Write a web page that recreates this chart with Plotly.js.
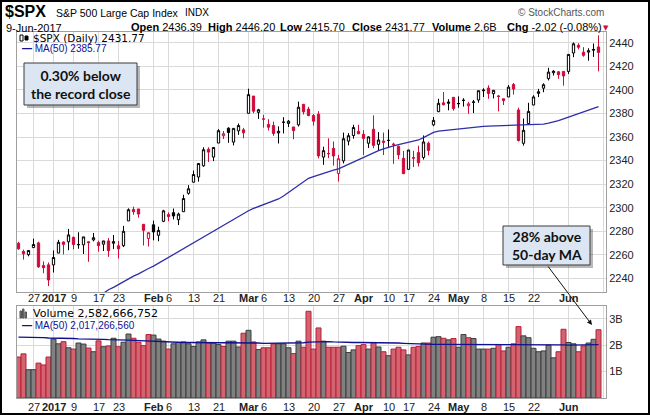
<!DOCTYPE html>
<html>
<head>
<meta charset="utf-8">
<script src="https://cdn.plot.ly/plotly-3.0.1.min.js"></script>
<style>
  html, body { margin: 0; padding: 0; background: #fff; }
  #chart { width: 650px; height: 415px; }
</style>
</head>
<body>
<div id="chart"></div>
<script>
// $SPX daily, 21-Dec-2016 .. 9-Jun-2017 (117 sessions)
const dates = [
  '2016-12-21','2016-12-22','2016-12-23','2016-12-27','2016-12-28','2016-12-29','2016-12-30',
  '2017-01-03','2017-01-04','2017-01-05','2017-01-06','2017-01-09','2017-01-10','2017-01-11','2017-01-12','2017-01-13',
  '2017-01-17','2017-01-18','2017-01-19','2017-01-20','2017-01-23','2017-01-24','2017-01-25','2017-01-26','2017-01-27',
  '2017-01-30','2017-01-31','2017-02-01','2017-02-02','2017-02-03','2017-02-06','2017-02-07','2017-02-08','2017-02-09',
  '2017-02-10','2017-02-13','2017-02-14','2017-02-15','2017-02-16','2017-02-17','2017-02-21','2017-02-22','2017-02-23',
  '2017-02-24','2017-02-27','2017-02-28','2017-03-01','2017-03-02','2017-03-03','2017-03-06','2017-03-07','2017-03-08',
  '2017-03-09','2017-03-10','2017-03-13','2017-03-14','2017-03-15','2017-03-16','2017-03-17','2017-03-20','2017-03-21',
  '2017-03-22','2017-03-23','2017-03-24','2017-03-27','2017-03-28','2017-03-29','2017-03-30','2017-03-31','2017-04-03',
  '2017-04-04','2017-04-05','2017-04-06','2017-04-07','2017-04-10','2017-04-11','2017-04-12','2017-04-13','2017-04-17',
  '2017-04-18','2017-04-19','2017-04-20','2017-04-21','2017-04-24','2017-04-25','2017-04-26','2017-04-27','2017-04-28',
  '2017-05-01','2017-05-02','2017-05-03','2017-05-04','2017-05-05','2017-05-08','2017-05-09','2017-05-10','2017-05-11',
  '2017-05-12','2017-05-15','2017-05-16','2017-05-17','2017-05-18','2017-05-19','2017-05-22','2017-05-23','2017-05-24',
  '2017-05-25','2017-05-26','2017-05-30','2017-05-31','2017-06-01','2017-06-02','2017-06-05','2017-06-06','2017-06-07',
  '2017-06-08','2017-06-09'
];

const open = [
  2270.0, 2262.93, 2260.25, 2266.23, 2270.23, 2251.0, 2251.61,
  2251.57, 2261.6, 2271.0, 2271.14, 2275.0, 2268.6, 2268.6, 2271.14, 2272.74,
  2270.5, 2269.14, 2271.9, 2269.96, 2267.78, 2267.88, 2288.88, 2298.63, 2299.02,
  2286.01, 2274.02, 2285.59, 2276.69, 2288.54, 2294.28, 2295.87, 2289.89, 2296.7,
  2312.27, 2321.72, 2326.12, 2335.58, 2349.64, 2343.01, 2354.91, 2361.11, 2367.5,
  2355.73, 2365.23, 2366.08, 2380.13, 2394.75, 2380.92, 2375.23, 2370.74, 2369.81,
  2363.49, 2372.52, 2371.56, 2368.55, 2370.34, 2387.71, 2383.71, 2378.24, 2379.32,
  2343.0, 2345.97, 2350.42, 2329.11, 2339.79, 2356.54, 2361.31, 2364.82, 2362.34,
  2354.76, 2366.59, 2353.79, 2356.59, 2357.16, 2353.92, 2352.15, 2341.98, 2332.62,
  2342.53, 2346.79, 2342.69, 2354.74, 2370.33, 2381.51, 2388.98, 2389.7, 2393.68,
  2388.5, 2391.05, 2386.5, 2389.79, 2391.42, 2399.94, 2401.58, 2396.79, 2394.84,
  2392.44, 2393.98, 2404.55, 2382.95, 2354.69, 2371.37, 2387.21, 2397.04, 2401.41,
  2409.54, 2414.5, 2415.3, 2415.63, 2415.65, 2431.28, 2437.83, 2431.92, 2432.03,
  2434.27, 2436.39
];
const high = [
  2271.2, 2264.5, 2263.79, 2273.82, 2271.31, 2254.51, 2253.58,
  2263.88, 2272.82, 2271.5, 2282.1, 2275.49, 2279.27, 2275.32, 2271.78, 2278.68,
  2272.08, 2272.01, 2274.33, 2276.96, 2271.78, 2284.63, 2299.55, 2300.99, 2299.02,
  2286.01, 2279.09, 2289.14, 2283.97, 2298.31, 2296.18, 2299.4, 2295.91, 2311.08,
  2319.23, 2331.58, 2337.58, 2351.3, 2351.31, 2351.16, 2366.71, 2365.13, 2368.26,
  2367.34, 2371.54, 2367.79, 2400.98, 2394.75, 2383.89, 2378.8, 2375.12, 2373.09,
  2369.08, 2376.86, 2374.42, 2368.55, 2390.01, 2388.1, 2385.71, 2379.55, 2381.93,
  2351.81, 2358.92, 2356.22, 2344.9, 2363.78, 2363.36, 2370.42, 2370.35, 2365.87,
  2360.53, 2378.36, 2364.16, 2363.76, 2366.37, 2355.22, 2352.72, 2348.26, 2349.14,
  2348.35, 2352.63, 2361.37, 2356.18, 2376.98, 2392.48, 2398.16, 2392.1, 2393.68,
  2394.49, 2392.93, 2389.82, 2391.43, 2399.29, 2401.36, 2403.87, 2399.74, 2395.72,
  2392.44, 2404.05, 2405.77, 2384.87, 2375.74, 2389.06, 2395.46, 2400.85, 2405.58,
  2418.71, 2416.68, 2415.99, 2415.99, 2430.06, 2440.23, 2439.55, 2436.21, 2435.28,
  2439.27, 2446.2
];
const low = [
  2264.5, 2256.08, 2258.84, 2266.15, 2249.11, 2244.56, 2233.62,
  2245.13, 2261.6, 2260.45, 2264.06, 2264.8, 2265.27, 2260.83, 2254.25, 2271.51,
  2262.81, 2263.35, 2258.41, 2265.01, 2257.02, 2266.68, 2288.88, 2294.08, 2291.62,
  2268.04, 2267.21, 2272.44, 2271.65, 2287.88, 2288.57, 2290.16, 2285.38, 2296.61,
  2311.1, 2321.42, 2322.17, 2334.81, 2338.87, 2339.58, 2354.91, 2358.34, 2355.09,
  2352.87, 2361.87, 2358.96, 2380.13, 2380.17, 2375.39, 2367.98, 2365.51, 2361.01,
  2354.54, 2363.04, 2368.52, 2358.18, 2368.94, 2379.14, 2377.64, 2369.66, 2341.9,
  2336.45, 2342.13, 2335.74, 2322.25, 2337.63, 2352.94, 2358.58, 2362.6, 2344.73,
  2350.72, 2350.52, 2348.9, 2344.73, 2351.5, 2337.25, 2341.18, 2328.95, 2332.51,
  2334.54, 2335.05, 2340.91, 2344.51, 2369.19, 2381.15, 2386.78, 2382.68, 2382.36,
  2384.83, 2385.82, 2379.75, 2380.35, 2389.11, 2393.92, 2392.44, 2392.79, 2381.74,
  2387.19, 2393.94, 2396.05, 2356.21, 2352.72, 2370.43, 2386.92, 2393.88, 2397.99,
  2408.01, 2412.2, 2409.43, 2403.59, 2413.54, 2427.71, 2434.32, 2428.12, 2424.75,
  2427.94, 2415.7
];
const close = [
  2265.18, 2260.96, 2263.79, 2268.88, 2249.92, 2249.26, 2238.83,
  2257.83, 2270.75, 2269.0, 2276.98, 2268.9, 2268.9, 2275.32, 2270.44, 2274.64,
  2267.89, 2271.89, 2263.69, 2271.31, 2265.2, 2280.07, 2298.37, 2296.68, 2294.69,
  2280.9, 2278.87, 2279.55, 2280.85, 2297.42, 2292.56, 2293.08, 2294.67, 2307.87,
  2316.1, 2328.25, 2337.58, 2349.25, 2347.22, 2351.16, 2365.38, 2362.82, 2363.81,
  2367.34, 2369.75, 2363.64, 2395.96, 2381.92, 2383.12, 2375.31, 2368.39, 2362.98,
  2364.87, 2372.6, 2373.47, 2365.45, 2385.26, 2381.38, 2378.25, 2373.47, 2344.02,
  2348.45, 2345.96, 2343.98, 2341.59, 2358.57, 2361.13, 2368.06, 2362.72, 2358.84,
  2360.16, 2352.95, 2357.49, 2355.54, 2357.16, 2353.78, 2344.93, 2328.95, 2349.01,
  2342.19, 2338.17, 2355.84, 2348.69, 2374.15, 2388.61, 2387.45, 2388.77, 2384.2,
  2388.33, 2391.17, 2388.13, 2389.52, 2399.29, 2399.38, 2396.92, 2399.63, 2394.44,
  2390.9, 2402.32, 2400.67, 2357.03, 2365.72, 2381.73, 2394.02, 2398.42, 2404.39,
  2415.07, 2415.82, 2412.91, 2411.8, 2430.06, 2439.07, 2436.1, 2429.33, 2433.14,
  2433.79, 2431.77
];
const prevClose0 = 2270.76;   // close of 20-Dec-2016, colours the first bar

// MA(50) of close (null = below the visible range)
const ma50 = [
  null, null, null, null, null, null, null, null, null, null,
  null, null, null, null, 2219, 2222, 2225, 2228, 2230.5, 2232.5,
  2235, 2237.5, 2239.5, 2242, 2244, 2246.5, 2248.5, 2250.5, 2253, 2255,
  2257.5, 2260, 2262.5, 2265, 2267.5, 2270, 2272.5, 2275, 2277.5, 2280,
  2282.5, 2285, 2287.5, 2290, 2292.5, 2295, 2297.5, 2299.5, 2301, 2302.5,
  2304, 2305.5, 2307.5, 2310, 2313, 2316, 2319, 2322, 2325, 2326.5,
  2328, 2329.5, 2330.5, 2332, 2333, 2335, 2337, 2339, 2341, 2343,
  2345, 2347, 2348.5, 2350, 2351.5, 2352.5, 2353.5, 2354.5, 2355.5, 2356.5,
  2357.5, 2359.5, 2362, 2364, 2365, 2365.5, 2366, 2366.5, 2367, 2367.5,
  2368, 2368.5, 2368.7, 2369, 2369.2, 2369.4, 2369.5, 2369.6, 2369.7, 2369.8,
  2369.9, 2370, 2370.2, 2370.5, 2370.8, 2371, 2371.8, 2372.8, 2374, 2375.5,
  2377, 2378.5, 2380, 2381.5, 2383, 2384.5, 2385.77
];

// volume, billions of shares
const volume = [
  1.55, 1.67, 1.07, 1.07, 1.32, 1.25, 1.55,
  2.23, 2.05, 2.13, 1.90, 1.85, 2.08, 2.04, 1.89, 1.75,
  2.16, 1.94, 1.97, 2.26, 1.94, 2.11, 2.42, 2.26, 2.11,
  1.98, 2.40, 2.38, 2.23, 2.15, 1.85, 2.05, 2.10, 2.12,
  2.05, 1.95, 2.12, 2.20, 2.08, 2.08, 2.02, 1.95, 2.15,
  2.15, 1.93, 2.45, 2.56, 2.12, 1.83, 1.90, 1.90, 2.05,
  2.05, 2.05, 1.90, 1.68, 2.15, 1.92, 3.28, 1.85, 2.65,
  2.15, 1.92, 1.92, 1.92, 1.96, 1.72, 1.82, 1.98, 2.02,
  1.85, 2.10, 1.93, 1.75, 1.60, 1.85, 1.92, 1.82, 1.63,
  1.92, 1.95, 2.08, 2.08, 2.30, 2.32, 2.26, 2.20, 2.25,
  1.92, 2.40, 2.28, 2.25, 1.85, 1.85, 1.85, 1.88, 2.02,
  1.78, 1.92, 2.05, 2.70, 2.35, 2.28, 1.88, 1.75, 1.78,
  2.00, 1.52, 1.75, 2.60, 2.10, 2.05, 1.75, 1.97, 2.08,
  2.22, 2.582666752
];
// MA(50) of volume, billions
const volMa50 = [
  2.30, 2.30, 2.29, 2.29, 2.28, 2.28, 2.27, 2.27, 2.26, 2.26,
  2.25, 2.25, 2.24, 2.24, 2.23, 2.23, 2.22, 2.22, 2.21, 2.21,
  2.20, 2.20, 2.19, 2.18, 2.17, 2.16, 2.15, 2.14, 2.13, 2.12,
  2.11, 2.10, 2.10, 2.10, 2.10, 2.10, 2.10, 2.10, 2.10, 2.10,
  2.09, 2.09, 2.09, 2.08, 2.08, 2.08, 2.08, 2.08, 2.08, 2.07,
  2.07, 2.07, 2.07, 2.07, 2.07, 2.07, 2.08, 2.09, 2.11, 2.12,
  2.13, 2.13, 2.13, 2.12, 2.11, 2.10, 2.10, 2.10, 2.10, 2.10,
  2.10, 2.10, 2.10, 2.09, 2.09, 2.08, 2.08, 2.07, 2.06, 2.05,
  2.04, 2.03, 2.03, 2.03, 2.03, 2.03, 2.03, 2.03, 2.03, 2.03,
  2.03, 2.03, 2.03, 2.03, 2.03, 2.03, 2.03, 2.03, 2.03, 2.03,
  2.03, 2.03, 2.03, 2.03, 2.03, 2.03, 2.02, 2.02, 2.02, 2.01,
  2.00, 2.00, 2.00, 2.00, 2.01, 2.01, 2.01726656
];

// x-axis labels (session index) and month boundaries
const tickIdx  = [3, 7, 11, 16, 20, 27, 30, 35, 40, 46, 49, 54, 59, 64, 69, 74, 78, 83, 88, 93, 98, 103, 110, 117];
const tickText = ['27', '<b>2017</b>', '9', '17', '23', '<b>Feb</b>', '6', '13', '21', '<b>Mar</b>', '6', '13', '20', '27',
                  '<b>Apr</b>', '10', '17', '24', '<b>May</b>', '8', '15', '22', '<b>Jun</b>', ''];
const monthIdx = [7, 27, 46, 69, 88, 110];

const W = 650, H = 415;
const px = x => x / W;
const py = y => 1 - y / H;

const RED = '#d10a3a';
const SANS = 'Liberation Sans, Arial, sans-serif';
const idx = dates.map((d, i) => i);
const isUp = idx.map(i => close[i] >= (i === 0 ? prevClose0 : close[i - 1]));

function candles(sel, col) {
  return {
    type: 'candlestick', xaxis: 'x', yaxis: 'y',
    x: sel, open: sel.map(i => open[i]), high: sel.map(i => high[i]),
    low: sel.map(i => low[i]), close: sel.map(i => close[i]),
    increasing: { line: { color: col, width: 1 }, fillcolor: '#ffffff' },
    decreasing: { line: { color: col, width: 1 }, fillcolor: col },
    whiskerwidth: 0, hoverinfo: 'skip', showlegend: false
  };
}

const traces = [
  candles(idx.filter(i => isUp[i]), '#000000'),
  candles(idx.filter(i => !isUp[i]), RED),
  {
    type: 'scatter', mode: 'lines', xaxis: 'x', yaxis: 'y',
    x: idx, y: ma50, line: { color: '#2e2ea8', width: 1.3 }, hoverinfo: 'skip'
  },
  {
    type: 'bar', xaxis: 'x2', yaxis: 'y2', x: idx, y: volume.map(v => v * 1e9), width: 1,
    marker: {
      color: isUp.map(u => u ? '#808080' : '#d2636f'),
      line: { color: isUp.map(u => u ? '#3c3c3c' : '#b8203a'), width: 1 }
    },
    hoverinfo: 'skip'
  },
  {
    type: 'scatter', mode: 'lines', xaxis: 'x2', yaxis: 'y2',
    x: idx, y: volMa50.map(v => v * 1e9), line: { color: '#101090', width: 1.3 }, hoverinfo: 'skip'
  }
];

const axisFont = { family: SANS, size: 11, color: '#222' };
const xCommon = {
  range: [-0.3, 117.5], tickvals: tickIdx, ticks: '', showticklabels: false,
  showgrid: true, gridcolor: '#dadada', zeroline: false,
  showline: true, mirror: true, linecolor: '#a0a0a0', linewidth: 1,
  fixedrange: true, domain: [px(17), px(606)]
};

const layout = {
  width: W, height: H,
  margin: { l: 0, r: 0, t: 0, b: 0 },
  paper_bgcolor: '#ffffff', plot_bgcolor: '#ffffff',
  showlegend: false,
  boxgap: 0.35,
  xaxis: Object.assign({}, xCommon, { anchor: 'y', rangeslider: { visible: false } }),
  xaxis2: Object.assign({}, xCommon, { anchor: 'y2' }),
  yaxis: {
    domain: [py(292), py(31.5)], range: [2228.6, 2449.5], side: 'right',
    tick0: 2240, dtick: 20, ticks: '', showgrid: true, gridcolor: '#dadada', zeroline: false,
    showline: true, mirror: true, linecolor: '#a0a0a0', tickfont: axisFont, fixedrange: true
  },
  yaxis2: {
    domain: [py(398), py(306)], range: [0, 3.48e9], side: 'right',
    tickvals: [1e9, 2e9, 3e9], ticktext: ['1B', '2B', '3B'], ticks: '',
    showgrid: true, gridcolor: '#dadada', zeroline: false,
    showline: true, mirror: true, linecolor: '#a0a0a0', tickfont: axisFont, fixedrange: true
  },
  shapes: [],
  annotations: []
};

// date labels under each panel, on the axis scale
tickIdx.forEach((t, k) => {
  [['x', 297.5], ['x2', 406.5]].forEach(([xr, yy]) => {
    layout.annotations.push({ xref: xr, yref: 'paper', x: t, y: py(yy), xanchor: 'center', yanchor: 'middle',
      showarrow: false, text: tickText[k], font: { family: SANS, size: 11, color: '#222' } });
  });
});

// darker month lines in both panels
monthIdx.forEach(m => {
  layout.shapes.push({ type: 'line', xref: 'x', yref: 'paper', x0: m, x1: m, y0: py(292), y1: py(31.5),
    line: { color: '#b4b4b4', width: 1 }, layer: 'between' });
  layout.shapes.push({ type: 'line', xref: 'x2', yref: 'paper', x0: m, x1: m, y0: py(398), y1: py(306),
    line: { color: '#b4b4b4', width: 1 }, layer: 'between' });
});

// white backgrounds under the in-panel legends
layout.shapes.push({ type: 'rect', xref: 'paper', yref: 'paper', x0: px(17.5), x1: px(122), y0: py(53), y1: py(32),
  fillcolor: '#ffffff', line: { width: 0 }, layer: 'between' });
layout.shapes.push({ type: 'rect', xref: 'paper', yref: 'paper', x0: px(17.5), x1: px(128), y0: py(331), y1: py(306.5),
  fillcolor: '#ffffff', line: { width: 0 }, layer: 'between' });

// little legend icons: candles and volume bars
function box(x0, y0, x1, y1, fill, line) {
  layout.shapes.push({ type: 'rect', xref: 'paper', yref: 'paper', x0: px(x0), x1: px(x1), y0: py(y1), y1: py(y0),
    fillcolor: fill, line: { color: line, width: 1 }, layer: 'above' });
}
box(20, 35, 23, 41, '#ffffff', '#000');
box(25, 36, 28, 40, '#000', '#000');
box(20, 311, 21.5, 318, '#777', '#555');
box(22.5, 309, 24, 318, '#777', '#555');
box(25, 312, 26.5, 318, '#777', '#555');

// call-out boxes with drop shadow
function callout(x0, y0, x1, y1, lines) {
  layout.shapes.push({ type: 'rect', xref: 'paper', yref: 'paper', x0: px(x0 + 3), x1: px(x1 + 3), y0: py(y1 + 3), y1: py(y0 + 3),
    fillcolor: 'rgba(0,0,0,0.28)', line: { width: 0 }, layer: 'above' });
  layout.shapes.push({ type: 'rect', xref: 'paper', yref: 'paper', x0: px(x0), x1: px(x1), y0: py(y1), y1: py(y0),
    fillcolor: '#dce6f2', line: { color: '#3a3a3a', width: 1 }, layer: 'above' });
  layout.annotations.push({ xref: 'paper', yref: 'paper', x: px((x0 + x1) / 2), y: py((y0 + y1) / 2),
    xanchor: 'center', yanchor: 'middle', showarrow: false, align: 'center',
    text: lines.join('<br>'), font: { family: 'Lato, Open Sans, sans-serif', size: 14, color: '#111' } });
}
const recordClose = Math.max(...close);
const belowRecord = ((recordClose - close[116]) / recordClose * 100).toFixed(2);
const aboveMa = Math.round((volume[116] / volMa50[116] - 1) * 100);
callout(24, 63, 137, 105, ['<b>' + belowRecord + '% below</b>', '<b>the record close</b>']);
callout(503, 226, 590, 265, ['<b>' + aboveMa + '% above</b>', '<b>50-day MA</b>']);

// arrow from the second call-out to the last volume bar
layout.annotations.push({ xref: 'paper', yref: 'paper', x: px(592), y: py(325), ax: -45, ay: -60,
  showarrow: true, arrowhead: 2, arrowsize: 1, arrowwidth: 1, arrowcolor: '#111', text: '' });

function label(x, y, text, size, opts) {
  layout.annotations.push(Object.assign({ xref: 'paper', yref: 'paper', x: px(x), y: py(y),
    xanchor: 'left', yanchor: 'middle', showarrow: false, text: text,
    font: { family: SANS, size: size, color: '#000' } }, opts || {}));
}

const fmt = v => v.toFixed(2);
const last = close.length - 1;
const chg = close[last] - close[last - 1];
const fmtInt = v => Math.round(v).toString().replace(/\B(?=(\d{3})+(?!\d))/g, ',');

// header
label(3, 11.5, '<b>$SPX</b>', 16);
label(54, 13, 'S&P 500 Large Cap Index', 10.5);
label(183, 13, 'INDX', 10);
label(606, 12.5, '© StockCharts.com', 10, { xanchor: 'right', font: { family: SANS, size: 10, color: '#555' } });
label(4, 27.5, '9-Jun-2017', 11);
label(129, 27, '<b>Open</b> ' + fmt(open[last]), 11);
label(206, 27, '<b>High</b> ' + fmt(high[last]), 11);
label(278, 27, '<b>Low</b> ' + fmt(low[last]), 11);
label(350, 27, '<b>Close</b> ' + fmt(close[last]), 11);
label(430, 27, '<b>Volume</b> ' + volume[last].toFixed(1) + 'B', 11);
label(505, 27, '<b>Chg</b> ' + fmt(chg) + ' (' + (chg / close[last - 1] * 100).toFixed(2) + '%)', 11);
label(601, 27.5, '▼', 7, { font: { family: 'DejaVu Sans, sans-serif', size: 7, color: RED } });

// in-panel legends
label(31, 38.5, '$SPX (Daily) ' + fmt(close[last]), 10.5, { font: { family: 'DejaVu Sans, sans-serif', size: 10.5, color: '#000' } });
label(20, 49, '<b>—</b> MA(50) ' + fmt(ma50[last]), 10, { font: { family: SANS, size: 10, color: '#101090' } });
label(31, 313.5, 'Volume ' + fmtInt(volume[last] * 1e9), 11, { font: { family: 'DejaVu Sans, sans-serif', size: 11, color: '#000' } });
label(20, 325, '<b>—</b> MA(50) ' + fmtInt(volMa50[last] * 1e9), 10, { font: { family: SANS, size: 10, color: '#101090' } });

// outer frame
layout.shapes.push({ type: 'rect', xref: 'paper', yref: 'paper', x0: px(1), x1: px(649), y0: py(414), y1: py(1),
  line: { color: '#000', width: 2 }, layer: 'above' });

Plotly.newPlot('chart', traces, layout, { staticPlot: true, displayModeBar: false });
</script>
</body>
</html>
